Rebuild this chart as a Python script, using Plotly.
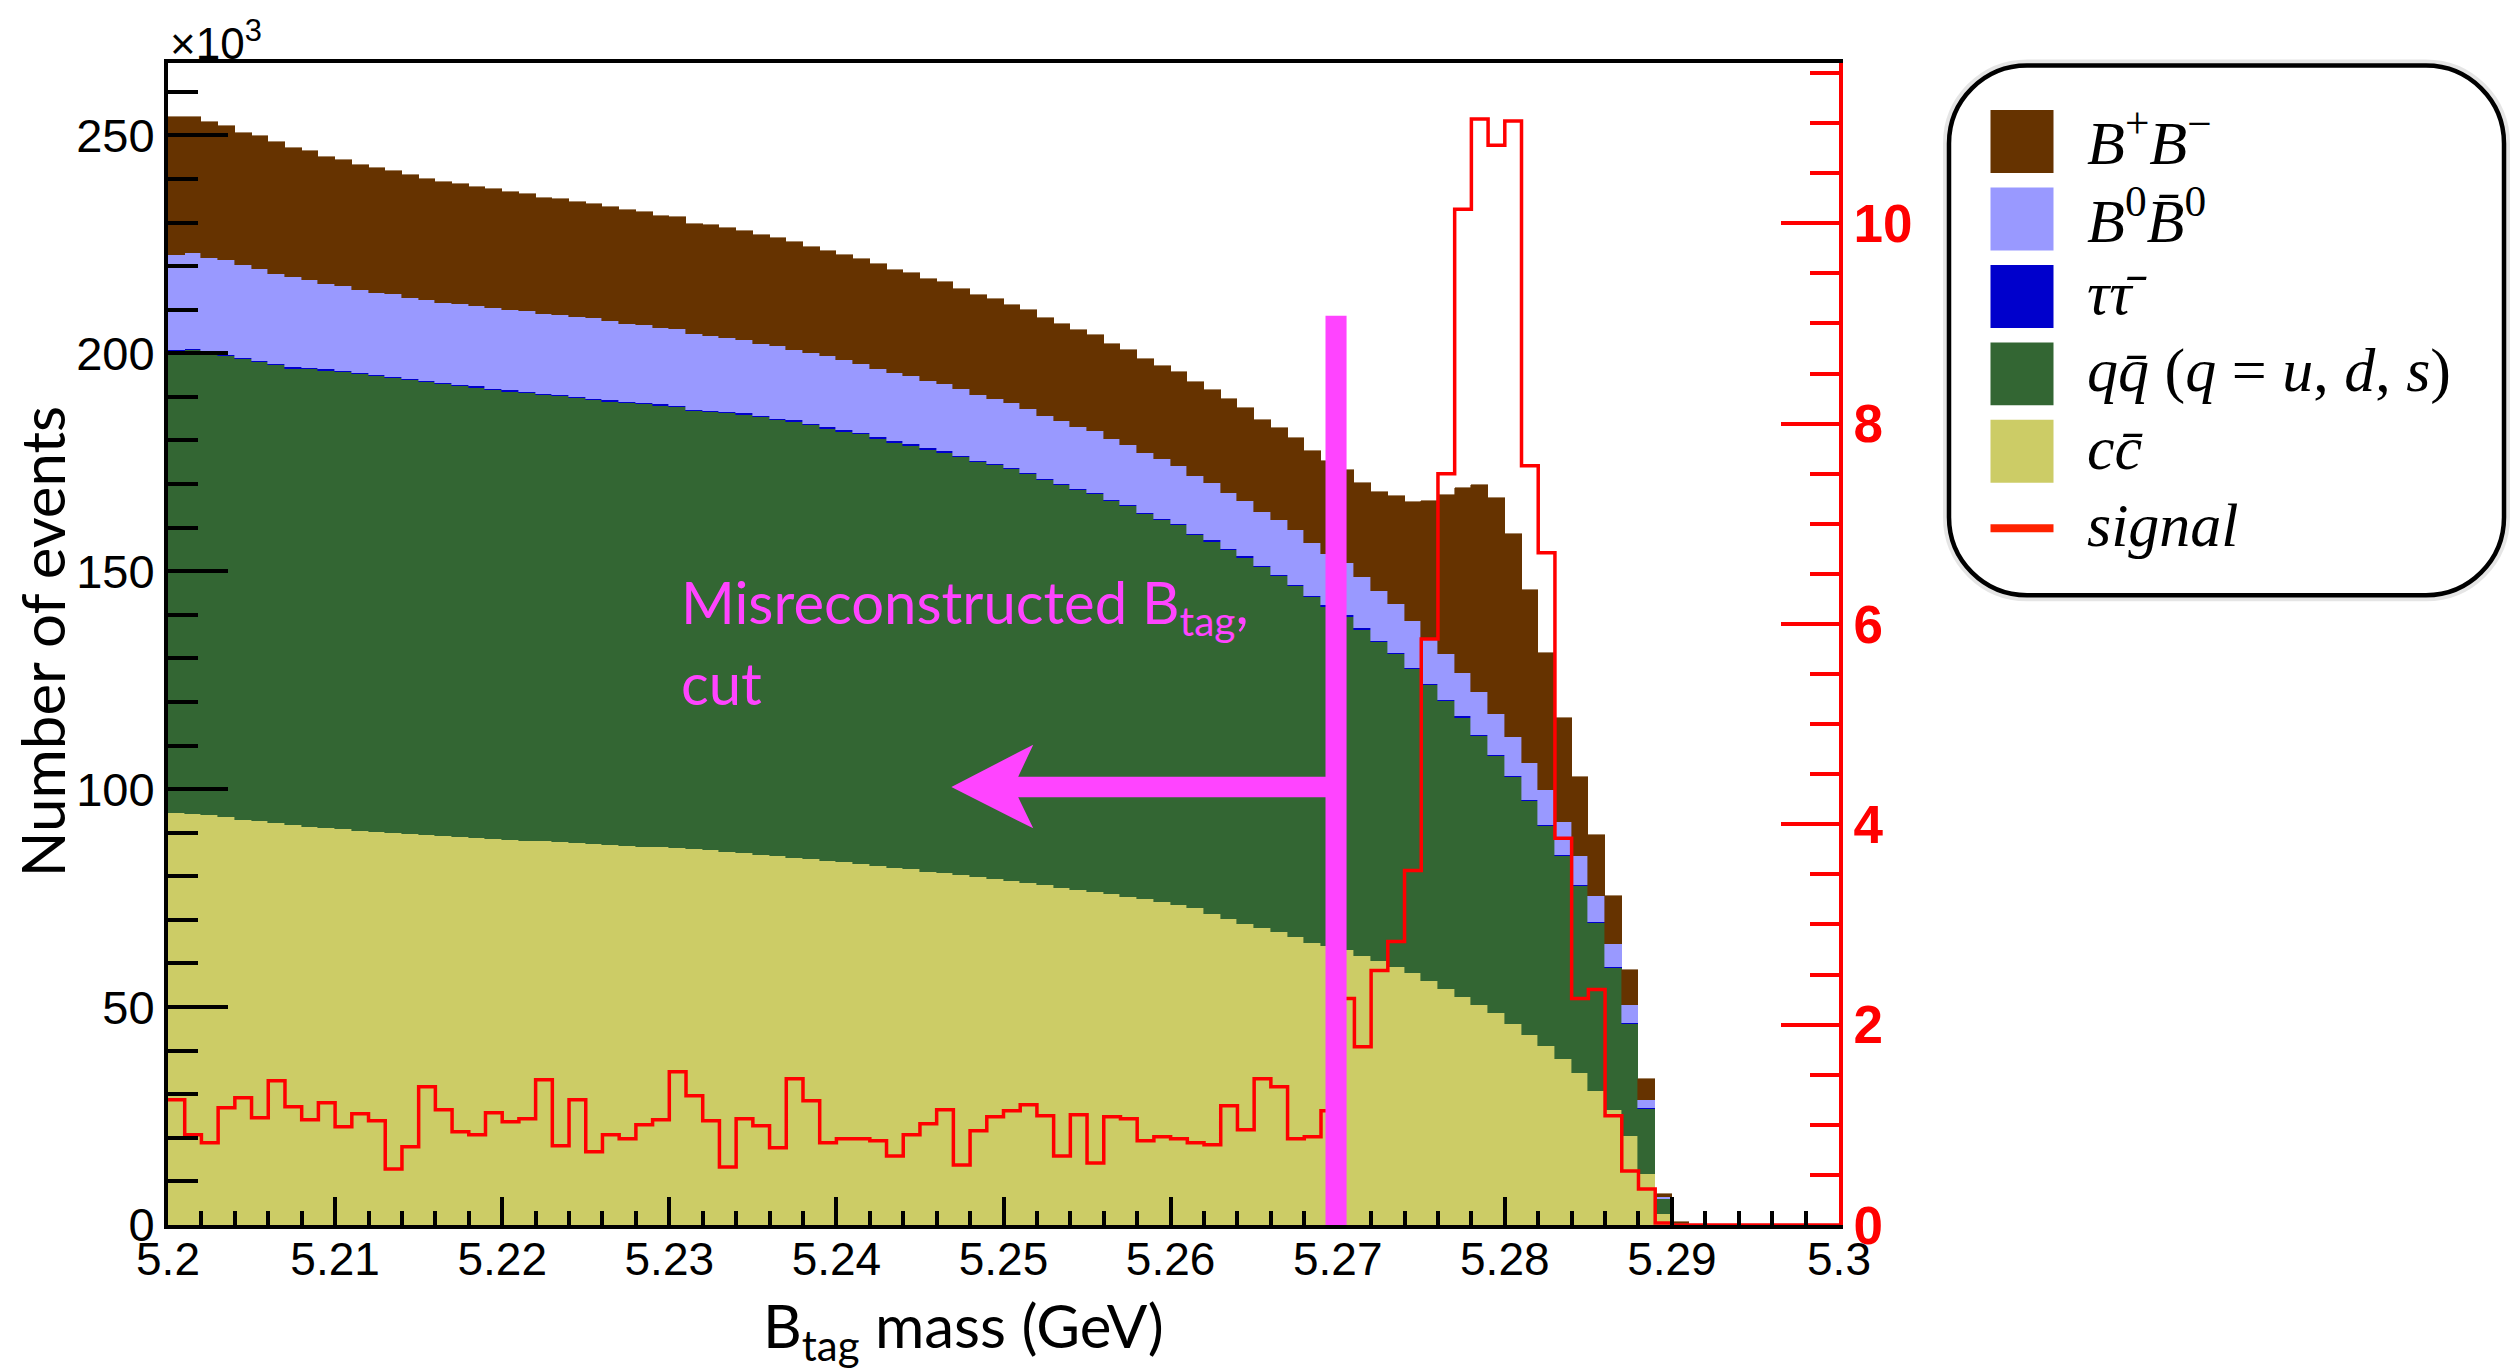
import numpy as np
import plotly.graph_objects as go

# ---------------- data (bins of 1 MeV from 5.200 GeV; counts in units of 10^3 events) ----------------
bin_start = 5.200
bin_width = 0.001

cc_k = [94.5, 94.3, 94.0, 93.5, 93.0, 92.6, 92.2, 91.8, 91.4, 91.1,
        90.8, 90.5, 90.2, 89.9, 89.6, 89.4, 89.2, 89.0, 88.8, 88.6,
        88.4, 88.2, 88.0, 87.8, 87.6, 87.4, 87.2, 87.0, 86.8, 86.7,
        86.5, 86.3, 86.0, 85.6, 85.3, 85.0, 84.6, 84.3, 83.9, 83.5,
        83.2, 82.8, 82.4, 82.0, 81.6, 81.1, 80.7, 80.2, 79.8, 79.4,
        78.9, 78.4, 77.9, 77.4, 76.9, 76.4, 75.9, 75.3, 74.7, 74.1,
        73.4, 72.7, 71.4, 70.3, 69.0, 68.1, 67.3, 66.1, 64.7, 63.9,
        63.2, 61.8, 60.6, 59.2, 57.8, 56.0, 54.2, 52.2, 50.5, 48.6,
        46.2, 43.7, 41.0, 38.2, 34.9, 30.8, 26.4, 20.4, 11.8, 2.6,
        0.1, 0, 0, 0, 0, 0, 0, 0, 0, 0]

qq_k = [106.0, 106.4, 105.6, 105.9, 105.6, 105.4, 105.1, 104.7, 104.9, 104.9,
        104.8, 104.7, 104.6, 104.4, 104.3, 104.0, 103.7, 103.5, 103.3, 103.0,
        102.8, 102.6, 102.4, 102.3, 102.1, 101.9, 101.7, 101.6, 101.5, 101.3,
        101.1, 100.5, 100.5, 100.7, 100.6, 100.3, 100.1, 100.0, 99.6, 99.2,
        98.8, 98.6, 98.0, 97.5, 97.2, 96.8, 96.5, 95.9, 95.3, 94.9,
        94.5, 93.8, 93.0, 92.3, 91.7, 91.3, 90.2, 89.6, 88.4, 87.6,
        87.1, 85.6, 85.4, 84.5, 84.1, 82.8, 81.5, 80.5, 79.3, 78.0,
        76.4, 74.8, 73.2, 71.8, 69.7, 67.8, 66.0, 64.2, 61.7, 59.0,
        56.5, 53.5, 50.5, 46.5, 42.9, 38.4, 32.6, 25.8, 14.8, 3.3,
        0.4, 0, 0, 0, 0, 0, 0, 0, 0, 0]

tautau_k = [0.3] * 86 + [0.3, 0.2, 0.2, 0.1] + [0] * 10

b0b0_k = [21.8, 21.9, 22.0, 21.6, 21.3, 21.0, 20.7, 20.6, 20.2, 19.5,
          19.5, 19.0, 18.7, 18.9, 18.5, 18.5, 18.3, 18.4, 18.4, 18.5,
          18.4, 18.5, 18.3, 18.4, 18.4, 18.5, 18.2, 17.9, 17.8, 17.5,
          17.7, 17.3, 17.1, 16.9, 16.8, 16.6, 16.6, 16.2, 16.3, 16.3,
          16.1, 15.9, 15.8, 15.7, 15.8, 15.4, 15.4, 15.3, 15.0, 15.0,
          14.8, 14.7, 14.5, 14.5, 14.3, 14.2, 14.0, 13.8, 13.7, 13.7,
          13.4, 13.3, 13.2, 12.9, 12.6, 12.5, 12.6, 12.5, 12.2, 11.7,
          11.9, 11.7, 11.4, 11.2, 10.8, 10.1, 10.4, 9.9, 9.7, 9.3,
          9.0, 8.5, 7.9, 7.5, 6.6, 6.0, 5.2, 4.0, 1.9, 0.4,
          0, 0, 0, 0, 0, 0, 0, 0, 0, 0]

bpbm_k = [31.6, 31.2, 31.2, 30.8, 30.3, 30.5, 30.1, 29.8, 29.5, 29.2,
          28.9, 28.8, 28.8, 28.3, 28.2, 27.9, 27.8, 27.6, 27.3, 27.2,
          27.0, 27.0, 26.7, 26.5, 26.3, 26.2, 26.1, 26.0, 26.0, 25.6,
          25.6, 25.3, 25.5, 25.3, 25.1, 25.0, 24.9, 24.7, 24.4, 24.2,
          24.2, 24.1, 24.1, 23.7, 23.5, 23.4, 23.4, 23.1, 22.9, 22.8,
          22.6, 22.7, 22.5, 22.3, 22.2, 21.9, 21.8, 21.8, 21.7, 21.3,
          21.4, 21.4, 21.3, 21.6, 21.4, 21.1, 21.1, 21.1, 21.1, 21.5,
          21.4, 21.6, 22.6, 24.7, 27.2, 31.9, 36.5, 42.6, 47.6, 49.6,
          46.6, 39.6, 31.5, 23.8, 18.2, 13.9, 10.9, 8.2, 4.9, 0.6,
          0.1, 0, 0, 0, 0, 0, 0, 0, 0, 0]

signal = [1.25, 0.90, 0.82, 1.17, 1.27, 1.07, 1.44, 1.18, 1.05, 1.22,
          0.98, 1.11, 1.04, 0.56, 0.78, 1.38, 1.15, 0.93, 0.90, 1.12,
          1.03, 1.06, 1.45, 0.79, 1.25, 0.73, 0.90, 0.86, 1.00, 1.05,
          1.53, 1.29, 1.04, 0.58, 1.06, 0.99, 0.77, 1.46, 1.24, 0.82,
          0.86, 0.86, 0.84, 0.69, 0.90, 1.01, 1.15, 0.60, 0.94, 1.08,
          1.14, 1.20, 1.09, 0.69, 1.10, 0.62, 1.08, 1.06, 0.84, 0.88,
          0.86, 0.82, 0.80, 1.19, 0.95, 1.46, 1.38, 0.86, 0.88, 1.14,
          2.26, 1.78, 2.54, 2.83, 3.54, 5.85, 7.50, 10.14, 11.04, 10.78,
          11.02, 7.58, 6.71, 3.86, 2.26, 2.35, 1.09, 0.54, 0.36, 0.02,
          0, 0, 0, 0, 0, 0, 0, 0, 0, 0]

x_tick_vals = [5.20, 5.21, 5.22, 5.23, 5.24, 5.25, 5.26, 5.27, 5.28, 5.29, 5.30]
x_tick_text = ["5.2", "5.21", "5.22", "5.23", "5.24", "5.25", "5.26", "5.27", "5.28", "5.29", "5.3"]
y_tick_vals = [0, 50, 100, 150, 200, 250]
y2_tick_vals = [0, 2, 4, 6, 8, 10]

components = [
    ("c c̄", cc_k, "#cccc66"),
    ("q q̄", qq_k, "#336633"),
    ("τ τ̄", tautau_k, "#0000cc"),
    ("B0 B̄0", b0b0_k, "#9999ff"),
    ("B+ B-", bpbm_k, "#663300"),
]

# annotation geometry
cut_x = 5.2699
cut_halfwidth = 0.00063
cut_top_k = 208.6
arrow_tip_x, arrow_notch_x, arrow_back_x = 5.24688, 5.25088, 5.25178
arrow_y, shaft_half, head_top, head_bot = 100.5, 2.35, 110.2, 91.0

# ---------------- figure ----------------
W, H = 2517, 1370
PL, PR, PT, PB = 168, 1839, 62.5, 1225
FONT_TICK = "Liberation Sans, Arial, sans-serif"
FONT_TITLE = "Lato, Open Sans, sans-serif"
FONT_MATH = "Liberation Serif, DejaVu Serif, serif"
MAGENTA = "#ff44ff"

n = len(cc_k)
centers = bin_start + bin_width * (np.arange(n) + 0.5)
edges = bin_start + bin_width * np.arange(n + 1)

fig = go.Figure()
for name, vals, col in components:
    fig.add_trace(go.Bar(x=centers, y=vals, width=bin_width, name=name,
                         marker=dict(color=col, line=dict(color=col, width=0.6)),
                         showlegend=False))

fig.add_trace(go.Scatter(x=edges, y=signal + [signal[-1]], mode="lines", yaxis="y2",
                         line=dict(color="#ff0000", width=3.5, shape="hv"),
                         name="signal", showlegend=False))


def pxp(x):
    return (x - PL) / (PR - PL)


def pyp(y):
    return (PB - y) / (PB - PT)


shapes = []
# cut bar
shapes.append(dict(type="rect", xref="x", yref="y", x0=cut_x - cut_halfwidth, x1=cut_x + cut_halfwidth,
                   y0=0, y1=cut_top_k, fillcolor=MAGENTA, line=dict(width=0), layer="above"))
# arrow
ap = (f"M {arrow_tip_x} {arrow_y} L {arrow_back_x} {head_top} L {arrow_notch_x} {arrow_y + shaft_half} "
      f"L {cut_x} {arrow_y + shaft_half} L {cut_x} {arrow_y - shaft_half} L {arrow_notch_x} {arrow_y - shaft_half} "
      f"L {arrow_back_x} {head_bot} Z")
shapes.append(dict(type="path", xref="x", yref="y", path=ap, fillcolor=MAGENTA, line=dict(width=0), layer="above"))

# legend box (rounded)
bx0, bx1, by0, by1, r = 1949, 2504, 65, 595, 78
k = 0.5523 * r


def P(x, y):
    return f"{pxp(x):.5f},{pyp(y):.5f}"


box = (f"M {P(bx0 + r, by0)} L {P(bx1 - r, by0)} C {P(bx1 - r + k, by0)} {P(bx1, by0 + r - k)} {P(bx1, by0 + r)} "
       f"L {P(bx1, by1 - r)} C {P(bx1, by1 - r + k)} {P(bx1 - r + k, by1)} {P(bx1 - r, by1)} "
       f"L {P(bx0 + r, by1)} C {P(bx0 + r - k, by1)} {P(bx0, by1 - r + k)} {P(bx0, by1 - r)} "
       f"L {P(bx0, by0 + r)} C {P(bx0, by0 + r - k)} {P(bx0 + r - k, by0)} {P(bx0 + r, by0)} Z")
shapes.append(dict(type="path", xref="paper", yref="paper", path=box, fillcolor="rgba(0,0,0,0)",
                   line=dict(color="rgba(0,0,0,0.10)", width=12)))
shapes.append(dict(type="path", xref="paper", yref="paper", path=box, fillcolor="white",
                   line=dict(color="black", width=4.5)))

legend_rows = [141, 218.5, 296, 373.5, 451]
legend_cols = ["#663300", "#9999ff", "#0000cc", "#336633", "#cccc66"]
legend_text = ["<i>B</i><sup>+</sup><i>B</i><sup>−</sup>",
               "<i>B</i><sup>0</sup><i>B̄</i><sup>0</sup>",
               "<i>ττ̄</i>",
               "<i>qq̄</i> (<i>q</i> = <i>u</i>, <i>d</i>, <i>s</i>)",
               "<i>cc̄</i>",
               "<i>signal</i>"]
for yc, col in zip(legend_rows, legend_cols):
    shapes.append(dict(type="rect", xref="paper", yref="paper", x0=pxp(1990.5), x1=pxp(2053.5),
                       y0=pyp(yc + 31.5), y1=pyp(yc - 31.5), fillcolor=col, line=dict(width=0)))
shapes.append(dict(type="line", xref="paper", yref="paper", x0=pxp(1990.5), x1=pxp(2053.5),
                   y0=pyp(528), y1=pyp(528), line=dict(color="#ff2200", width=8)))

annotations = []
for yc, txt in zip(legend_rows + [528], legend_text):
    annotations.append(dict(xref="paper", yref="paper", x=pxp(2085), y=pyp(yc - 3), xanchor="left",
                            yanchor="middle", text=txt, showarrow=False,
                            font=dict(family=FONT_MATH, size=62, color="black")))

annotations += [
    dict(xref="paper", yref="paper", x=0, y=pyp(40), xanchor="left", yanchor="middle",
         text="×10<sup>3</sup>", showarrow=False, font=dict(family=FONT_TICK, size=44, color="black")),
    dict(xref="paper", yref="paper", x=pxp(42), y=pyp(642), xanchor="center", yanchor="middle",
         text="Number of events", textangle=-90, showarrow=False,
         font=dict(family=FONT_TITLE, size=60, color="black")),
    dict(xref="paper", yref="paper", x=pxp(963), y=pyp(1330), xanchor="center", yanchor="middle",
         text="B<sub>tag</sub> mass (GeV)", showarrow=False,
         font=dict(family=FONT_TITLE, size=60, color="black")),
    dict(xref="x", yref="y", x=5.2306, y=142.0, xanchor="left", yanchor="middle",
         text="Misreconstructed B<sub>tag</sub>,", showarrow=False,
         font=dict(family=FONT_TITLE, size=58, color=MAGENTA)),
    dict(xref="x", yref="y", x=5.2306, y=124.5, xanchor="left", yanchor="middle",
         text="cut", showarrow=False, font=dict(family=FONT_TITLE, size=58, color=MAGENTA)),
]

fig.update_layout(
    width=W, height=H, autosize=False,
    margin=dict(l=PL, r=W - PR, t=PT, b=H - PB, pad=0),
    paper_bgcolor="white", plot_bgcolor="white",
    barmode="stack", bargap=0,
    showlegend=False,
    shapes=shapes, annotations=annotations,
    xaxis=dict(range=[5.2, 5.3], showgrid=False, zeroline=False,
               showline=True, linecolor="black", linewidth=4, mirror=True,
               tickmode="array", tickvals=x_tick_vals, ticktext=x_tick_text,
               ticks="inside", ticklen=28, tickwidth=4, tickcolor="black",
               minor=dict(tickmode="linear", tick0=5.2, dtick=0.002, ticks="inside",
                          ticklen=14, tickwidth=4, tickcolor="black"),
               tickfont=dict(family=FONT_TICK, size=46, color="black"),
               ticklabelstandoff=-9),
    yaxis=dict(range=[0, 266.6], showgrid=False, zeroline=False,
               showline=True, linecolor="black", linewidth=4,
               tickmode="array", tickvals=y_tick_vals,
               ticks="inside", ticklen=60, tickwidth=4, tickcolor="black",
               minor=dict(tickmode="linear", tick0=0, dtick=10, ticks="inside",
                          ticklen=30, tickwidth=4, tickcolor="black"),
               tickfont=dict(family=FONT_TICK, size=47, color="black"),
               ticklabelstandoff=0),
    yaxis2=dict(range=[0, 11.6], overlaying="y", side="right", anchor="x",
                showgrid=False, zeroline=False,
                showline=True, linecolor="#ff0000", linewidth=4,
                tickmode="array", tickvals=y2_tick_vals,
                ticks="inside", ticklen=58, tickwidth=4, tickcolor="#ff0000",
                minor=dict(tickmode="linear", tick0=0, dtick=0.5, ticks="inside",
                           ticklen=29, tickwidth=4, tickcolor="#ff0000"),
                tickfont=dict(family=FONT_TICK, size=53, color="#ff0000", weight="bold"),
                ticklabelstandoff=0),
)

fig.write_html("out.html", config={"displayModeBar": False},
               post_script="document.body.style.margin='0';")
